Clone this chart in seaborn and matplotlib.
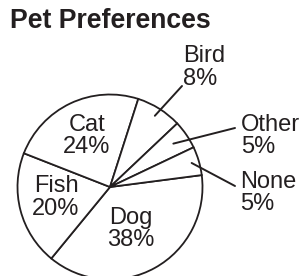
import numpy as np
import matplotlib
matplotlib.use("Agg")
import matplotlib.pyplot as plt
import seaborn as sns

# Data (percent of respondents)
pets = ["Dog", "Fish", "Cat", "Bird", "Other", "None"]
shares = [38, 20, 24, 8, 5, 5]

sns.set_theme(style="white")
plt.rcParams["font.family"] = ["Liberation Sans", "DejaVu Sans"]
ink = "#231f20"

W, H = 305, 276
fig = plt.figure(figsize=(W / 100, H / 100), dpi=100)
ax = fig.add_axes([0, 0, 1, 1])
ax.set_xlim(0, W)
ax.set_ylim(0, H)
ax.axis("off")

cx, cy, R = 110, H - 187, 92.5
start = 7.4
wedges, _ = ax.pie(shares, startangle=start, counterclock=False, center=(cx, cy), radius=R,
                   colors=["white"] * len(shares),
                   wedgeprops=dict(edgecolor=ink, linewidth=1.3))
ax.set_xlim(0, W)
ax.set_ylim(0, H)
ax.set_aspect("equal")

fs = 17
# labels inside the big slices
inside = {"Cat": (87, 136), "Fish": (56, 197.5), "Dog": (131, 229)}
# labels outside with leader lines: text position, leader end
outside = {"Bird": ((183, 67.5), (182, 86)),
           "Other": ((241, 136), (235, 128)),
           "None": ((240, 193), (235, 186))}
leader_r = {"Bird": 0.91, "Other": 0.83, "None": 0.92}

for w, name, pct in zip(wedges, pets, shares):
    label = f"{name}\n{pct}%"
    if name in inside:
        x, y = inside[name]
        ax.text(x, H - y, label, ha="center", va="center", fontsize=fs,
                color=ink, linespacing=1.02)
    else:
        (tx, ty), (ex, ey) = outside[name]
        mid = np.deg2rad((w.theta1 + w.theta2) / 2)
        px = cx + leader_r[name] * R * np.cos(mid)
        py = cy + leader_r[name] * R * np.sin(mid)
        ax.plot([px, ex], [py, H - ey], color=ink, linewidth=1.4)
        ax.text(tx, H - ty, label, ha="left", va="center", fontsize=fs,
                color=ink, linespacing=1.02)

fig.text(10 / W, 1 - 21 / H, "Pet Preferences", ha="left", va="center",
         fontsize=19.2, fontweight="bold", color=ink)

fig.savefig("out.png", dpi=100, facecolor="white")
